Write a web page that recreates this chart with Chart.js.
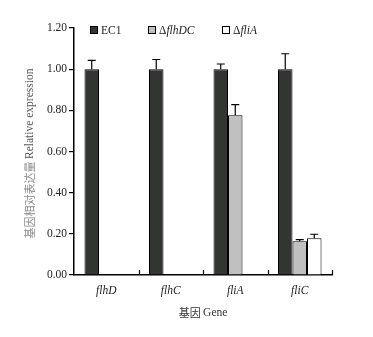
<!DOCTYPE html>
<html>
<head>
<meta charset="utf-8">
<script src="https://cdn.jsdelivr.net/npm/chart.js@4/dist/chart.umd.min.js"></script>
<style>
  html, body { margin: 0; padding: 0; background: #fff; }
  #wrap { width: 373px; height: 337px; position: relative; }
</style>
</head>
<body>
<div id="wrap"><canvas id="myChart" width="373" height="337"></canvas></div>
<script>
// data
const genes = ['flhD', 'flhC', 'fliA', 'fliC'];
const ec1 = [1.00, 1.00, 1.00, 1.00];
const ec1Err = [0.043, 0.047, 0.025, 0.075];
const flhDC = [null, null, 0.776, 0.164];
const flhDCErr = [0, 0, 0.052, 0.008];
const fliA = [null, null, null, 0.179];
const fliAErr = [0, 0, 0, 0.019];
const yTicks = [0, 0.2, 0.4, 0.6, 0.8, 1.0, 1.2];

const serif = '"Liberation Serif", "Times New Roman", serif';
const cjk = '"Noto Sans CJK SC", sans-serif';

// error bars, only upward
const errorBars = {
  id: 'errorBars',
  afterDatasetsDraw(chart) {
    const { ctx, scales: { y } } = chart;
    ctx.save();
    ctx.strokeStyle = '#000';
    ctx.lineWidth = 1.2;
    chart.data.datasets.forEach((ds, di) => {
      const meta = chart.getDatasetMeta(di);
      meta.data.forEach((bar, i) => {
        const v = ds.data[i];
        const e = ds.err[i];
        if (v == null || !e) return;
        const top = y.getPixelForValue(v + e);
        ctx.beginPath();
        ctx.moveTo(bar.x, bar.y);
        ctx.lineTo(bar.x, top);
        ctx.moveTo(bar.x - 4, top);
        ctx.lineTo(bar.x + 4, top);
        ctx.stroke();
      });
    });
    ctx.restore();
  }
};

// extra bits: x ticks pointing up, legend, titles
const extras = {
  id: 'extras',
  afterDraw(chart) {
    const { ctx, chartArea: { left, right, top, bottom } } = chart;
    ctx.save();
    ctx.strokeStyle = '#000';
    ctx.lineWidth = 1.2;
    const w = (right - left) / genes.length;
    for (let i = 1; i <= genes.length; i++) {
      const x = Math.round(left + i * w) + 0.5;
      ctx.beginPath();
      ctx.moveTo(x, bottom);
      ctx.lineTo(x, bottom - 5);
      ctx.stroke();
    }

    // legend
    const items = [
      { x: 90, fill: '#333533', pre: '', txt: 'EC1', it: false },
      { x: 148, fill: '#c0c0c0', pre: '\u0394', txt: 'flhDC', it: true },
      { x: 222, fill: '#ffffff', pre: '\u0394', txt: 'fliA', it: true }
    ];
    ctx.textBaseline = 'middle';
    ctx.textAlign = 'left';
    items.forEach(it => {
      ctx.fillStyle = it.fill;
      ctx.fillRect(it.x, 26, 7, 7);
      ctx.lineWidth = 1;
      ctx.strokeRect(it.x + 0.5, 26.5, 7, 7);
      ctx.fillStyle = '#222';
      let tx = it.x + 11;
      if (it.pre) {
        ctx.font = '11.5px ' + serif;
        ctx.fillText(it.pre, tx, 30.5);
        tx += ctx.measureText(it.pre).width;
      }
      ctx.font = (it.it ? 'italic ' : '') + '11.5px ' + serif;
      ctx.fillText(it.txt, tx, 30.5);
    });

    // y title
    ctx.save();
    ctx.translate(30, (top + bottom) / 2 + 2);
    ctx.rotate(-Math.PI / 2);
    const zh = '基因相对表达量 ';
    const en = 'Relative expression';
    ctx.font = '11px ' + cjk;
    const zw = ctx.measureText(zh).width;
    ctx.font = '11.5px ' + serif;
    const ew = ctx.measureText(en).width;
    let sx = -(zw + ew) / 2;
    ctx.textAlign = 'left';
    ctx.font = '11px ' + cjk;
    ctx.fillStyle = '#8a8a8a';
    ctx.fillText(zh, sx, 0);
    ctx.font = '11.5px ' + serif;
    ctx.fillStyle = '#555';
    ctx.fillText(en, sx + zw, 0);
    ctx.restore();

    // x title
    ctx.textAlign = 'left';
    const xz = '基因 ';
    const xe = 'Gene';
    ctx.font = '11px ' + cjk;
    const xzw = ctx.measureText(xz).width;
    ctx.font = '11.5px ' + serif;
    const xew = ctx.measureText(xe).width;
    const cx = (left + right) / 2;
    let bx = cx - (xzw + xew) / 2;
    ctx.fillStyle = '#333';
    ctx.font = '11px ' + cjk;
    ctx.fillText(xz, bx, 313);
    ctx.font = '11.5px ' + serif;
    ctx.fillText(xe, bx + xzw, 313);
    ctx.restore();
  }
};

const data = {
  labels: genes,
  datasets: [
    { label: 'EC1', data: ec1, err: ec1Err, backgroundColor: '#333533' },
    { label: '\u0394flhDC', data: flhDC, err: flhDCErr, backgroundColor: '#c0c0c0' },
    { label: '\u0394fliA', data: fliA, err: fliAErr, backgroundColor: '#ffffff' }
  ].map(d => Object.assign(d, {
    borderColor: '#000',
    borderWidth: 1,
    borderSkipped: 'bottom',
    categoryPercentage: 0.675,
    barPercentage: 1.0
  }))
};

const config = {
  type: 'bar',
  data,
  options: {
    responsive: false,
    animation: false,
    layout: { padding: { left: 0, right: 41, top: 28, bottom: 0 } },
    plugins: {
      legend: { display: false },
      tooltip: { enabled: false }
    },
    scales: {
      x: {
        grid: { display: false },
        border: { display: true, color: '#000', width: 1.5 },
        ticks: {
          color: '#222',
          padding: 1,
          font: { family: serif, size: 11.5, style: 'italic' }
        },
        afterFit(s) { s.height = 62; }
      },
      y: {
        min: 0,
        max: 1.2,
        afterBuildTicks(s) { s.ticks = yTicks.map(v => ({ value: v })); },
        grid: { display: true, drawOnChartArea: false, drawTicks: true, tickLength: 5, color: '#000', lineWidth: 1.2 },
        border: { display: true, color: '#000', width: 1.5 },
        ticks: {
          color: '#222',
          padding: 2,
          font: { family: serif, size: 11.5 },
          callback: v => Number(v).toFixed(2)
        },
        afterFit(s) { s.width = 74; }
      }
    }
  },
  plugins: [errorBars, extras]
};

const myChart = new Chart(document.getElementById('myChart'), config);
</script>
</body>
</html>
